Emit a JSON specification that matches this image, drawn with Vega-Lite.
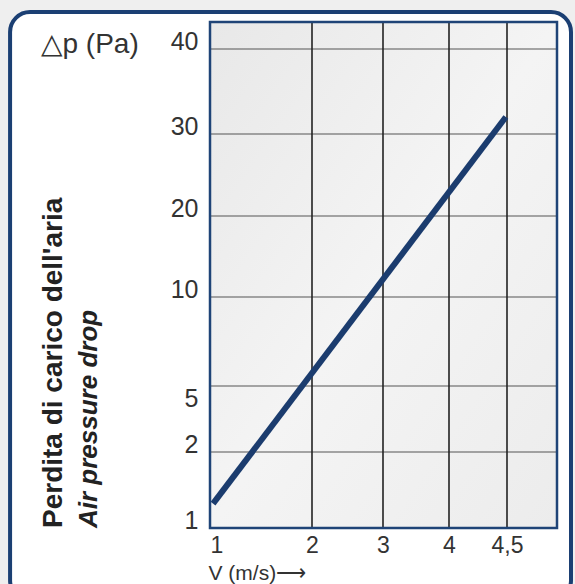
{
  "$schema": "https://vega.github.io/schema/vega-lite/v6.json",
  "width": 347,
  "height": 506,
  "autosize": {"type": "none"},
  "padding": {"left": 210, "top": 22, "right": 18, "bottom": 56},
  "background": "#efefef",
  "config": {"view": {"stroke": null}, "font": "Liberation Sans"},
  "title": {
    "text": "Perdita di carico dell'aria",
    "subtitle": "Air pressure drop",
    "orient": "left",
    "anchor": "start",
    "frame": "group",
    "offset": -94,
    "font": "Liberation Sans",
    "fontSize": 28,
    "fontWeight": "bold",
    "color": "#222222",
    "subtitleFont": "Liberation Sans",
    "subtitleFontSize": 26,
    "subtitleFontStyle": "italic",
    "subtitleFontWeight": "bold",
    "subtitleColor": "#222222",
    "subtitlePadding": 8
  },
  "layer": [
    {
      "data": {"values": [{}]},
      "mark": {"type": "rect", "fill": "white", "stroke": "#1b3f73", "strokeWidth": 4, "cornerRadius": 20},
      "encoding": {
        "x": {
          "datum": -0.96,
          "type": "quantitative",
          "scale": {"domain": [1, 2, 3, 4, 4.5, 5], "range": [0, 102, 173, 239, 297, 347], "nice": false, "zero": false},
          "axis": {
            "values": [1, 2, 3, 4, 4.5],
            "grid": false,
            "domain": false,
            "ticks": false,
            "labelFontSize": 23,
            "labelColor": "#333333",
            "labelPadding": 6,
            "labelBaseline": "top",
            "labelFlush": false,
            "labelAlign": {"condition": {"test": "datum.value == 1", "value": "left"}, "value": "center"},
            "labelExpr": "replace(format(datum.value, '~g'), '.', ',')",
            "title": "V  (m/s)⟶",
            "titleAnchor": "start",
            "titleAlign": "left",
            "titleBaseline": "alphabetic",
            "titleX": -2,
            "titleY": 51,
            "titleFontSize": 21,
            "titleFontWeight": "normal",
            "titleColor": "#333333",
            "zindex": 1
          }
        },
        "x2": {"datum": 5.14},
        "y": {
          "datum": 0.05,
          "type": "quantitative",
          "scale": {"domain": [1, 2, 5, 10, 20, 30, 40, 43], "range": [506, 430, 364, 275, 194, 112, 27, 0], "nice": false, "zero": false},
          "axis": {
            "values": [1, 2, 5, 10, 20, 30, 40],
            "grid": false,
            "domain": false,
            "ticks": false,
            "format": "~g",
            "labelFontSize": 25,
            "labelColor": "#333333",
            "labelPadding": 12,
            "labelBaseline": {"condition": {"test": "datum.value == 5", "value": "top"}, "value": "alphabetic"},
            "title": "△p (Pa)",
            "titleAngle": 0,
            "titleAlign": "left",
            "titleBaseline": "alphabetic",
            "titleX": -170,
            "titleY": 30,
            "titleFontSize": 28,
            "titleFontWeight": "normal",
            "titleColor": "#333333",
            "zindex": 1
          }
        },
        "y2": {"datum": 44.1}
      }
    },
    {
      "data": {"values": [{}]},
      "mark": {
        "type": "rect",
        "color": {
          "gradient": "linear",
          "x1": 0, "y1": 0, "x2": 1, "y2": 1,
          "stops": [
            {"offset": 0, "color": "#e8e8e8"},
            {"offset": 0.5, "color": "#f4f4f4"},
            {"offset": 1, "color": "#ececec"}
          ]
        }
      },
      "encoding": {
        "x": {"datum": 1},
        "x2": {"datum": 5},
        "y": {"datum": 1},
        "y2": {"datum": 43}
      }
    },
    {
      "data": {"values": [{"dp": 2}, {"dp": 5}, {"dp": 10}, {"dp": 20}, {"dp": 30}, {"dp": 40}]},
      "mark": {"type": "rule", "color": "#555555", "strokeWidth": 1.2},
      "encoding": {"y": {"field": "dp", "type": "quantitative"}}
    },
    {
      "data": {"values": [{"v": 2}, {"v": 3}, {"v": 4}, {"v": 4.5}]},
      "mark": {"type": "rule", "color": "#222222", "strokeWidth": 1.6},
      "encoding": {"x": {"field": "v", "type": "quantitative"}}
    },
    {
      "data": {"values": [{"v": 1.03, "dp": 1.32}, {"v": 4.49, "dp": 32}]},
      "mark": {"type": "line", "color": "#1b3c6e", "strokeWidth": 6, "strokeCap": "butt"},
      "encoding": {
        "x": {"field": "v", "type": "quantitative"},
        "y": {"field": "dp", "type": "quantitative"}
      }
    },
    {
      "data": {"values": [{}]},
      "mark": {"type": "rect", "fillOpacity": 0, "stroke": "#1f4477", "strokeWidth": 2.5},
      "encoding": {
        "x": {"datum": 1},
        "x2": {"datum": 5},
        "y": {"datum": 1},
        "y2": {"datum": 43}
      }
    }
  ]
}
